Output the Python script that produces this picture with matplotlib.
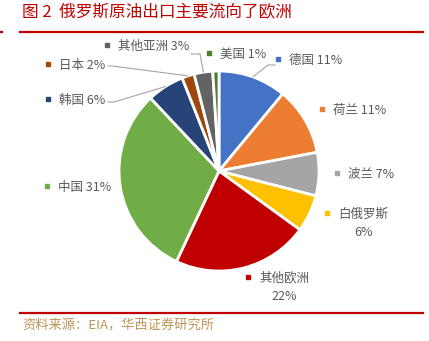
import numpy as np
import matplotlib
matplotlib.use('Agg')
import matplotlib.pyplot as plt

plt.rcParams['font.family'] = ['Noto Sans CJK SC', 'DejaVu Sans']

# Data
names = ['德国', '荷兰', '波兰', '白俄罗斯', '其他欧洲', '中国', '韩国', '日本', '其他亚洲', '美国']
shares = [11, 11, 7, 6, 22, 31, 6, 2, 3, 1]
colors = ['#4472C4', '#ED7D31', '#A5A5A5', '#FFC000', '#C00000',
          '#70AD47', '#264478', '#9E480E', '#636363', '#4E7F2F']

title = '图 2  俄罗斯原油出口主要流向了欧洲'
source = '资料来源：EIA，华西证券研究所'

W, H = 429, 341
def fy(y):
    return H - y

fig = plt.figure(figsize=(W / 100, H / 100), dpi=100)
ax = fig.add_axes([0, 0, 1, 1])

cx, cy, R = 219, 171, 100
wedges, _ = ax.pie(shares, colors=colors, startangle=90, counterclock=False,
                   center=(cx, fy(cy)), radius=R,
                   wedgeprops=dict(edgecolor='white', linewidth=2))
ax.set_xlim(0, W)
ax.set_ylim(0, H)
ax.axis('off')

# label layout: marker x, y (pixels)
label_pos = {
    '德国': (278, 59),
    '荷兰': (322, 109),
    '波兰': (337, 173),
    '白俄罗斯': (327, 213),
    '其他欧洲': (248, 277),
    '中国': (47, 186),
    '韩国': (48, 99),
    '日本': (48, 64),
    '其他亚洲': (107, 45),
    '美国': (209, 53),
}
two_line = ['白俄罗斯', '其他欧洲']
txt_col = '#595959'

for name, val, col in zip(names, shares, colors):
    mx, my = label_pos[name]
    ax.plot(mx, fy(my), marker='s', markersize=2.6, color=col, linestyle='none')
    if name in two_line:
        ax.text(mx + 11, fy(my + 1), name, ha='left', va='center', fontsize=9, color=txt_col)
        w = 12.6 * len(name)
        ax.text(mx + 11 + w / 2, fy(my + 20), f'{val}%', ha='center', va='center',
                fontsize=9, color=txt_col)
    else:
        ax.text(mx + 11, fy(my + 1), f'{name} {val}%', ha='left', va='center',
                fontsize=9, color=txt_col)

# leader lines from wedge edge to label
leaders = {
    '德国': [(275, 65), (268, 65)],
    '韩国': [(108, 102), (114, 102)],
    '日本': [(108, 66), (112, 66)],
    '其他亚洲': [(191, 54), (200, 54)],
}
for w, name in zip(wedges, names):
    if name not in leaders:
        continue
    ang = np.deg2rad((w.theta1 + w.theta2) / 2)
    ex = cx + R * np.cos(ang)
    ey = fy(cy) + R * np.sin(ang)
    pts = leaders[name]
    xs = [p[0] for p in pts] + [ex]
    ys = [fy(p[1]) for p in pts] + [ey]
    ax.plot(xs, ys, color='#A6A6A6', linewidth=0.8)

# title and frame lines
red = '#C00000'
ax.text(22, fy(13), title, ha='left', va='center', fontsize=12, color=red)
ax.plot([20, 423], [fy(32), fy(32)], color=red, linewidth=1.6)
ax.plot([0, 2], [fy(32), fy(32)], color=red, linewidth=1.6)
ax.plot([20, 423], [fy(313), fy(313)], color=red, linewidth=1.6)
ax.text(22, fy(326), source, ha='left', va='center', fontsize=9.5, color='#BE9455')

fig.savefig('out.png', dpi=100)
